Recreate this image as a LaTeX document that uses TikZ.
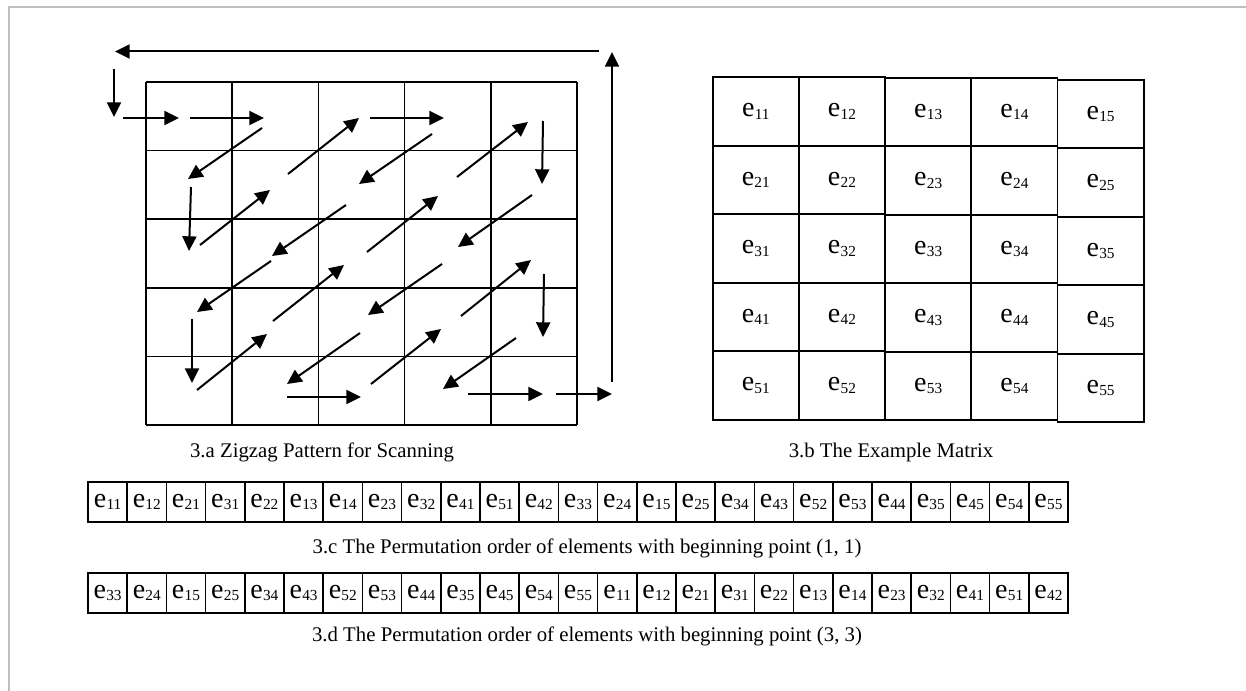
\documentclass[tikz,border=0pt]{standalone}
\usepackage{fontspec}
\setmainfont{Liberation Serif}
\usetikzlibrary{arrows.meta}
\newcommand{\elab}[1]{{\fontsize{21}{24}\selectfont e\kern0.2pt\raisebox{-2pt}{\fontsize{11.5}{13}\selectfont #1}}}
\begin{document}
\begin{tikzpicture}[x=0.75pt,y=-0.75pt,
  zz/.style={line width=1.5pt,-{Triangle[length=11pt,width=10.5pt]}},
  gridline/.style={line width=1.25pt},
  cell/.style={draw,line width=1.25pt,minimum width=64.65pt,minimum height=51.4pt,inner sep=0pt},
  scell/.style={draw,line width=1.2pt,minimum width=29.4pt,minimum height=30pt,inner sep=0pt},
  captext/.style={font=\fontsize{15.6}{18}\selectfont,inner sep=0pt}]
\useasboundingbox (0,0) rectangle (1246,691);
\draw[gray!50,line width=1.5pt] (9,691) -- (9,7) -- (1246,7);
% zigzag grid
\foreach \i in {0,...,5} \draw[gridline] ({146+86.2*\i},82) -- ({146+86.2*\i},425);
\foreach \j in {0,...,5} \draw[gridline] (146,{82+68.6*\j}) -- (577,{82+68.6*\j});
% zigzag arrows
\foreach \xa/\ya/\xb/\yb in {
  599/51.5/115/51.5, 612/382/612/52, 114/69/114/117,
  123/118/179/118, 190/118/264/118, 288/174/359/118, 370/118/444/118,
  262/128/188/179, 432/134/359/184, 457/177/528/122, 543/121/542/184,
  191/187/189/251, 200/245/270/190, 346/205/272/256, 367/252/438/196, 532/195/458/247,
  271/261/197/312, 273/321/344/265, 442/264/368/315, 461/316/531/260, 544/274/543/337,
  192/319/192/383, 197/390/267/334, 360/333/287/384, 371/384/441/329, 516/338/443/389,
  287/397/361/397, 468/394/543/394, 556/394/612/394}
  \draw[zz] (\xa,\ya) -- (\xb,\yb);
% example matrix
\foreach \r in {1,...,5}
  \foreach \c/\yo in {1/0,2/0,3/0.5,4/0.5,5/2.5}
    \node[cell] (m\r\c) at ({712.7+86.2*(\c-0.5)},{77.3+\yo+68.5*(\r-0.5)}) {\elab{\r\c}};
% strips
\foreach \v [count=\k] in {11,12,21,31,22,13,14,23,32,41,51,42,33,24,15,25,34,43,52,53,44,35,45,54,55}
  \node[scell] (a\k) at ({88+39.2*(\k-0.5)},502) {\elab{\v}};
\foreach \v [count=\k] in {33,24,15,25,34,43,52,53,44,35,45,54,55,11,12,21,31,22,13,14,23,32,41,51,42}
  \node[scell] (b\k) at ({88+39.2*(\k-0.5)},593) {\elab{\v}};
% captions
\node[captext] (capa) at (322,452) {3.a Zigzag Pattern for Scanning};
\node[captext] (capb) at (891,452) {3.b The Example Matrix};
\node[captext] (capc) at (587,548) {3.c The Permutation order of elements with beginning point (1, 1)};
\node[captext] (capd) at (587,636) {3.d The Permutation order of elements with beginning point (3, 3)};
\end{tikzpicture}
\end{document}
